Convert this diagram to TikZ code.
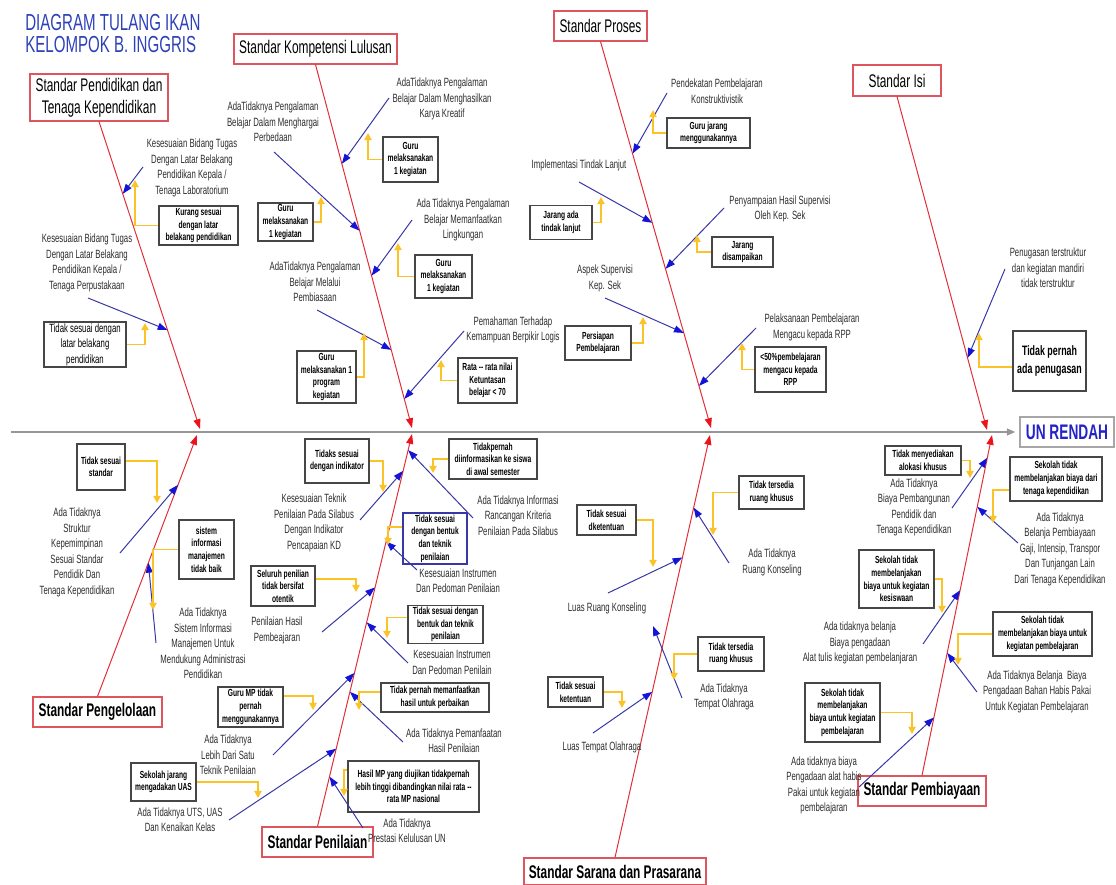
\documentclass[tikz,border=0pt]{standalone}
\usepackage{fontspec}
\usetikzlibrary{arrows.meta,calc}
\newfontfamily\nf[FakeStretch=0.65]{Liberation Sans}
\definecolor{bonered}{RGB}{225,45,55}
\definecolor{tipred}{RGB}{235,20,30}
\definecolor{catred}{RGB}{220,85,95}
\definecolor{subblue}{RGB}{55,55,165}
\definecolor{tipblue}{RGB}{20,20,215}
\definecolor{noteyellow}{RGB}{250,195,40}
\definecolor{boxgray}{RGB}{70,70,70}
\definecolor{spinegray}{RGB}{150,150,150}
\definecolor{titleblue}{RGB}{45,65,185}
\definecolor{unblue}{RGB}{35,35,200}
\definecolor{txtgray}{RGB}{45,45,45}

\begin{document}
\begin{tikzpicture}[
  x=0.025cm, y=-0.025cm,
  sz/.style 2 args={minimum width=#1*0.025cm, minimum height=#2*0.025cm},
  cat/.style={draw=catred, line width=0.8pt, fill=white, align=center, inner sep=1pt, font=\nf\fontsize{13}{15.6}\selectfont},
  catb/.style={cat, font=\nf\bfseries\fontsize{13}{15.6}\selectfont},
  cause/.style={align=center, inner sep=0pt, text=txtgray, font=\nf\fontsize{8.5}{11}\selectfont},
  why/.style={draw=boxgray, line width=0.8pt, fill=white, align=center, inner sep=1pt, font=\nf\bfseries\fontsize{7.3}{9}\selectfont},
  bonearr/.style={draw=bonered, line width=0.7pt, -{Triangle[length=7pt,width=5pt,color=tipred]}},
  subarr/.style={draw=subblue, line width=0.7pt, -{Triangle[length=7pt,width=5pt,color=tipblue]}},
  yarr/.style={draw=noteyellow, line width=1.3pt, -{Triangle[length=5pt,width=5pt]}},
  spinearr/.style={draw=spinegray, line width=1pt, -{Triangle[length=6pt,width=5pt]}},
]
  \fill[white] (0,0) rectangle (1116,885);
  \useasboundingbox (0,0) rectangle (1116,885);

  % title
  \node[anchor=west, inner sep=0pt, text=titleblue, font=\nf\fontsize{16.5}{20}\selectfont] (t1) at (25,23) {DIAGRAM TULANG IKAN};
  \node[anchor=west, inner sep=0pt, text=titleblue, font=\nf\fontsize{16.5}{20}\selectfont] (t2) at (25,45) {KELOMPOK B. INGGRIS};

  % spine and effect
  \node[draw=black!35, line width=0.8pt, sz={94}{30}, text=unblue, font=\nf\bfseries\fontsize{15}{18}\selectfont] (unr) at (1067,432) {UN RENDAH};
  \coordinate (tail) at (11,432);
  \draw[spinearr, shorten >=3pt] (tail) -- (unr.west);

  % heads of the main bones
  \coordinate (h1) at (200,429);
  \coordinate (h2) at (412,428);
  \coordinate (h3) at (711,428);
  \coordinate (h4) at (987,430);
  \coordinate (h5) at (197,435);
  \coordinate (h6) at (412,434);
  \coordinate (h7) at (710,435);
  \coordinate (h8) at (992,435);

  % categories
  \node[cat, sz={138}{47}] (spd) at (99,97.5) {Standar Pendidikan dan\\Tenaga Kependidikan};
  \node[cat, sz={163}{30}] (skl) at (315.5,49) {Standar Kompetensi Lulusan};
  \node[cat, sz={93}{30}] (spr) at (600.5,26) {Standar Proses};
  \node[cat, sz={88}{31}] (sis) at (897,80.5) {Standar Isi};
  \node[catb, sz={129}{30}] (spg) at (97.5,712) {Standar Pengelolaan};
  \node[catb, sz={111}{30}] (spn) at (317.5,842) {Standar Penilaian};
  \node[catb, sz={182}{27}] (ssp) at (615,871.5) {Standar Sarana dan Prasarana};
  \node[catb, sz={128}{30}] (spb) at (922,791) {Standar Pembiayaan};

  \draw[bonearr] (spd.south) -- (h1);
  \draw[bonearr] (skl.south) -- (h2);
  \draw[bonearr] (spr.south) -- (h3);
  \draw[bonearr] (sis.south) -- (h4);
  \draw[bonearr] (spg.north) -- (h5);
  \draw[bonearr] (spn.north) -- (h6);
  \draw[bonearr] (ssp.north) -- (h7);
  \draw[bonearr] (spb.north) -- (h8);

  % Standar Pendidikan dan Tenaga Kependidikan
  \node[cause] (spd1) at (192,168) {Kesesuaian Bidang Tugas\\Dengan Latar Belakang\\Pendidikan Kepala /\\Tenaga Laboratorium};
  \node[why, sz={79}{39}] (spd1b) at (198.5,225.5) {Kurang sesuai\\dengan latar\\belakang pendidikan};
  \coordinate (spd1s) at (143,167);
  \coordinate (spd1y) at (135,180);
  \draw[subarr] (spd1s) -- ($(spd.south)!0.235!(h1)$);
  \draw[yarr] (spd1b.west) -| (spd1y);

  \node[cause] (spd2) at (87,263) {Kesesuaian Bidang Tugas\\Dengan Latar Belakang\\Pendidikan Kepala /\\Tenaga Perpustakaan};
  \node[why, sz={82}{45}, font=\nf\fontsize{8.5}{11}\selectfont] (spd2b) at (85,344.5) {Tidak sesuai dengan\\latar belakang\\pendidikan};
  \coordinate (spd2s) at (88,298);
  \coordinate (spd2y) at (145,323);
  \draw[subarr] (spd2s) -- ($(spd.south)!0.678!(h1)$);
  \draw[yarr] (spd2b.east) -| (spd2y);

  % Standar Kompetensi Lulusan
  \node[cause] (skl1) at (442,99) {AdaTidaknya Pengalaman\\Belajar Dalam Menghasilkan\\Karya Kreatif};
  \node[why, sz={55}{45}] (skl1b) at (410.5,159.5) {Guru\\melaksanakan\\1 kegiatan};
  \coordinate (skl1s) at (389,98);
  \coordinate (skl1y) at (368,133);
  \draw[subarr] (skl1s) -- ($(skl.south)!0.273!(h2)$);
  \draw[yarr] (skl1b.west) -| (skl1y);

  \node[cause] (skl2) at (273,122) {AdaTidaknya Pengalaman\\Belajar Dalam Menghargai\\Perbedaan};
  \node[why, sz={55}{38}] (skl2b) at (285.5,222) {Guru\\melaksanakan\\1 kegiatan};
  \coordinate (skl2s) at (274,152);
  \coordinate (skl2y) at (321,197);
  \draw[subarr] (skl2s) -- ($(skl.south)!0.457!(h2)$);
  \draw[yarr] (skl2b.east) -| (skl2y);

  \node[cause] (skl3) at (463,220) {Ada Tidaknya Pengalaman\\Belajar Memanfaatkan\\Lingkungan};
  \node[why, sz={57}{43}] (skl3b) at (443.5,276.5) {Guru\\melaksanakan\\1 kegiatan};
  \coordinate (skl3s) at (412,220);
  \coordinate (skl3y) at (398,243);
  \draw[subarr] (skl3s) -- ($(skl.south)!0.581!(h2)$);
  \draw[yarr] (skl3b.west) -| (skl3y);

  \node[cause] (skl4) at (315,282) {AdaTidaknya Pengalaman\\Belajar Melalui\\Pembiasaan};
  \node[why, sz={59}{52}] (skl4b) at (326.5,377) {Guru\\melaksanakan 1\\program\\kegiatan};
  \coordinate (skl4s) at (317,310);
  \coordinate (skl4y) at (364,333);
  \draw[subarr] (skl4s) -- ($(skl.south)!0.785!(h2)$);
  \draw[yarr] (skl4b.east) -| (skl4y);

  \node[cause] (skl5) at (513,330) {Pemahaman Terhadap\\Kemampuan Berpikir Logis};
  \node[why, sz={59}{45}] (skl5b) at (487.5,380.5) {Rata -- rata nilai\\Ketuntasan\\belajar < 70};
  \coordinate (skl5s) at (464,331);
  \coordinate (skl5y) at (441,360);
  \draw[subarr] (skl5s) -- ($(skl.south)!0.920!(h2)$);
  \draw[yarr] (skl5b.west) -| (skl5y);

  % Standar Proses
  \node[cause] (spr1) at (717,91) {Pendekatan Pembelajaran\\Konstruktivistik};
  \node[why, sz={83}{30}] (spr1b) at (708.5,133) {Guru jarang\\menggunakannya};
  \coordinate (spr1s) at (667,93);
  \coordinate (spr1y) at (653,110);
  \draw[subarr] (spr1s) -- ($(spr.south)!0.290!(h3)$);
  \draw[yarr] (spr1b.west) -| (spr1y);

  \node[cause] (spr2) at (579,165) {Implementasi Tindak Lanjut};
  \node[why, sz={62}{34}] (spr2b) at (561,222.5) {Jarang ada\\tindak lanjut};
  \coordinate (spr2s) at (579,182);
  \coordinate (spr2y) at (601,197);
  \draw[subarr] (spr2s) -- ($(spr.south)!0.469!(h3)$);
  \draw[yarr] (spr2b.east) -| (spr2y);

  \node[cause] (spr3) at (780,209) {Penyampaian Hasil Supervisi\\Oleh Kep. Sek};
  \node[why, sz={61}{30}] (spr3b) at (742.5,252) {Jarang\\disampaikan};
  \coordinate (spr3s) at (724,208);
  \coordinate (spr3y) at (697,235);
  \draw[subarr] (spr3s) -- ($(spr.south)!0.588!(h3)$);
  \draw[yarr] (spr3b.west) -| (spr3y);

  \node[cause] (spr4) at (605,278.5) {Aspek Supervisi\\Kep. Sek};
  \node[why, sz={66}{34}] (spr4b) at (598,343) {Persiapan\\Pembelajaran};
  \coordinate (spr4s) at (605,298);
  \coordinate (spr4y) at (643,317);
  \draw[subarr] (spr4s) -- ($(spr.south)!0.754!(h3)$);
  \draw[yarr] (spr4b.east) -| (spr4y);

  \node[cause] (spr5) at (812,327.5) {Pelaksanaan Pembelajaran\\Mengacu kepada RPP};
  \node[why, sz={71}{45}] (spr5b) at (790.5,369.5) {<50\%pembelajaran\\mengacu kepada\\RPP};
  \coordinate (spr5s) at (756,328);
  \coordinate (spr5y) at (742,343);
  \draw[subarr] (spr5s) -- ($(spr.south)!0.891!(h3)$);
  \draw[yarr] (spr5b.west) -| (spr5y);

  % Standar Isi
  \node[cause] (sis1) at (1048,268) {Penugasan terstruktur\\dan kegiatan mandiri\\tidak terstruktur};
  \node[why, sz={73}{60}, font=\nf\bfseries\fontsize{9.7}{12.8}\selectfont] (sis1b) at (1049.5,361) {Tidak pernah\\ada penugasan};
  \coordinate (sis1s) at (1005,269);
  \coordinate (sis1y) at (979,333);
  \draw[subarr] (sis1s) -- ($(sis.south)!0.784!(h4)$);
  \draw[yarr] ([yshift=-4pt]sis1b.west) -| (sis1y);

  % Standar Pengelolaan
  \node[cause] (spg1) at (77,552.5) {Ada Tidaknya\\Struktur\\Kepemimpinan\\Sesuai Standar\\Pendidik Dan\\Tenaga Kependidikan};
  \node[why, sz={48}{46}] (spg1b) at (101,467) {Tidak sesuai\\standar};
  \coordinate (spg1s) at (120,553);
  \coordinate (spg1y) at (157,503);
  \draw[subarr] (spg1s) -- ($(spg.north)!0.809!(h5)$);
  \draw[yarr] ([yshift=4pt]spg1b.east) -| (spg1y);

  \node[cause] (spg2) at (203,643.5) {Ada Tidaknya\\Sistem Informasi\\Manajemen Untuk\\Mendukung Administrasi\\Pendidikan};
  \node[why, sz={55}{59}] (spg2b) at (206.5,549.5) {sistem\\informasi\\manajemen\\tidak baik};
  \coordinate (spg2s) at (156,643);
  \coordinate (spg2y) at (153,610);
  \draw[subarr] (spg2s) -- ($(spg.north)!0.511!(h5)$);
  \draw[yarr] (spg2b.west) -| (spg2y);

  % Standar Penilaian
  \node[cause] (spn1) at (314,523) {Kesesuaian Teknik\\Penilaian Pada Silabus\\Dengan Indikator\\Pencapaian KD};
  \node[why, sz={64}{44}] (spn1b) at (337,461) {Tidaks sesuai\\dengan indikator};
  \coordinate (spn1s) at (360,520);
  \coordinate (spn1y) at (383,492);
  \draw[subarr] (spn1s) -- ($(spn.north)!0.906!(h6)$);
  \draw[yarr] (spn1b.east) -| (spn1y);

  \node[cause] (spn2) at (518,515.5) {Ada Tidaknya Informasi\\Rancangan Kriteria\\Penilaian Pada Silabus};
  \node[why, sz={88}{40}] (spn2b) at (493,459) {Tidakpernah\\diinformasikan ke siswa\\di awal semester};
  \coordinate (spn2s) at (473,518);
  \coordinate (spn2y) at (433,473);
  \draw[subarr] (spn2s) -- ($(spn.north)!0.959!(h6)$);
  \draw[yarr] (spn2b.west) -| (spn2y);

  \node[cause] (spn3) at (458,580.5) {Kesesuaian Instrumen\\Dan Pedoman Penilaian};
  \node[why, draw=subblue, sz={64}{51}] (spn3b) at (435,538.5) {Tidak sesuai\\dengan bentuk\\dan teknik\\penilaian};
  \coordinate (spn3s) at (417,570);
  \coordinate (spn3y) at (388,545);
  \draw[subarr] (spn3s) -- ($(spn.north)!0.726!(h6)$);
  \draw[yarr] ([yshift=8pt]spn3b.west) -| (spn3y);

  \node[cause] (spn4) at (277,630.5) {Penilaian Hasil\\Pembeajaran};
  \node[why, sz={64}{40}] (spn4b) at (283,586) {Seluruh penilian\\tidak bersifat\\otentik};
  \coordinate (spn4s) at (322,632);
  \coordinate (spn4y) at (356,592);
  \draw[subarr] (spn4s) -- ($(spn.north)!0.609!(h6)$);
  \draw[yarr] ([yshift=5pt]spn4b.east) -| (spn4y);

  \node[cause] (spn5) at (452,662) {Kesesuaian Instrumen\\Dan Pedoman Penilain};
  \node[why, sz={75}{37}] (spn5b) at (445.5,624.5) {Tidak sesuai dengan\\bentuk dan teknik\\penilaian};
  \coordinate (spn5s) at (408,663);
  \coordinate (spn5y) at (387,638);
  \draw[subarr] (spn5s) -- ($(spn.north)!0.520!(h6)$);
  \draw[yarr] ([yshift=5pt]spn5b.west) -| (spn5y);

  \node[cause] (spn6) at (228,755) {Ada Tidaknya\\Lebih Dari Satu\\Teknik Penilaian};
  \node[why, sz={65}{40}] (spn6b) at (250.5,707) {Guru MP tidak\\pernah\\menggunakannya};
  \coordinate (spn6s) at (273,755);
  \coordinate (spn6y) at (313,710);
  \draw[subarr] (spn6s) -- ($(spn.north)!0.391!(h6)$);
  \draw[yarr] ([yshift=8pt]spn6b.east) -| (spn6y);

  \node[cause] (spn7) at (454,740.5) {Ada Tidaknya Pemanfaatan\\Hasil Penilaian};
  \node[why, sz={108}{29}] (spn7b) at (435,697.5) {Tidak pernah memanfaatkan\\hasil untuk perbaikan};
  \coordinate (spn7s) at (403,742);
  \coordinate (spn7y) at (359,710);
  \draw[subarr] (spn7s) -- ($(spn.north)!0.343!(h6)$);
  \draw[yarr] ([yshift=4pt]spn7b.west) -| (spn7y);

  \node[cause] (spn8) at (180,819.5) {Ada Tidaknya UTS, UAS\\Dan Kenaikan Kelas};
  \node[why, sz={65}{38}] (spn8b) at (163.5,782) {Sekolah jarang\\mengadakan UAS};
  \coordinate (spn8s) at (229,820);
  \coordinate (spn8y) at (258,798);
  \draw[subarr] (spn8s) -- ($(spn.north)!0.198!(h6)$);
  \draw[yarr] (spn8b.east) -| (spn8y);

  \node[cause] (spn9) at (407,830.5) {Ada Tidaknya\\Prestasi Kelulusan UN};
  \node[why, sz={131}{51}] (spn9b) at (413.5,786.5) {Hasil MP yang diujikan tidakpernah\\lebih tinggi dibandingkan nilai rata --\\rata MP nasional};
  \coordinate (spn9s) at (363,828);
  \coordinate (spn9y) at (344,796);
  \draw[subarr] (spn9s) -- ($(spn.north)!0.127!(h6)$);
  \draw[yarr] ([yshift=12pt]spn9b.west) -| (spn9y);

  % Standar Sarana dan Prasarana
  \node[cause] (ssp1) at (772,562.5) {Ada Tidaknya\\Ruang Konseling};
  \node[why, sz={65}{33}] (ssp1b) at (771.5,492.5) {Tidak tersedia\\ruang khusus};
  \coordinate (ssp1s) at (729,563);
  \coordinate (ssp1y) at (713,535);
  \draw[subarr] (ssp1s) -- ($(ssp.north)!0.828!(h7)$);
  \draw[yarr] (ssp1b.west) -| (ssp1y);

  \node[cause] (ssp2) at (607,608) {Luas Ruang Konseling};
  \node[why, sz={59}{30}] (ssp2b) at (606.5,520) {Tidak sesuai\\dketentuan};
  \coordinate (ssp2s) at (608,593);
  \coordinate (ssp2y) at (653,567);
  \draw[subarr] (ssp2s) -- ($(ssp.north)!0.710!(h7)$);
  \draw[yarr] (ssp2b.east) -| (ssp2y);

  \node[cause] (ssp3) at (724,697) {Ada Tidaknya\\Tempat Olahraga};
  \node[why, sz={66}{34}] (ssp3b) at (731,654) {Tidak tersedia\\ruang khusus};
  \coordinate (ssp3s) at (682,698);
  \coordinate (ssp3t) at (653,626);
  \coordinate (ssp3y) at (674,680);
  \draw[subarr] (ssp3s) -- (ssp3t);
  \draw[yarr] (ssp3b.west) -| (ssp3y);

  \node[cause] (ssp4) at (602,747) {Luas Tempat Olahraga};
  \node[why, sz={55}{30}] (ssp4b) at (575.5,692) {Tidak sesuai\\ketentuan};
  \coordinate (ssp4s) at (593,733);
  \coordinate (ssp4y) at (622,708);
  \draw[subarr] (ssp4s) -- ($(ssp.north)!0.392!(h7)$);
  \draw[yarr] (ssp4b.east) -| (ssp4y);

  % Standar Pembiayaan
  \node[cause] (spb1) at (914,507.5) {Ada Tidaknya\\Biaya Pembangunan\\Pendidik dan\\Tenaga Kependidikan};
  \node[why, sz={76}{29}] (spb1b) at (923,460.5) {Tidak menyediakan\\alokasi khusus};
  \coordinate (spb1s) at (952,508);
  \coordinate (spb1y) at (970,478);
  \draw[subarr] (spb1s) -- ($(spb.north)!0.933!(h8)$);
  \draw[yarr] (spb1b.east) -| (spb1y);

  \node[cause] (spb2) at (1060,549) {Ada Tidaknya\\Belanja Pembiayaan\\Gaji, Intensip, Transpor\\Dan Tunjangan Lain\\Dari Tenaga Kependidikan};
  \node[why, sz={92}{44}] (spb2b) at (1056,479) {Sekolah tidak\\membelanjakan biaya dari\\tenaga kependidikan};
  \coordinate (spb2s) at (1018,543);
  \coordinate (spb2y) at (993,523);
  \draw[subarr] (spb2s) -- ($(spb.north)!0.789!(h8)$);
  \draw[yarr] ([yshift=-8pt]spb2b.west) -| (spb2y);

  \node[cause] (spb3) at (860,643) {Ada tidaknya belanja\\Biaya pengadaan\\Alat tulis kegiatan pembelanjaran};
  \node[why, sz={75}{58}] (spb3b) at (896.5,579) {Sekolah tidak\\membelanjakan\\biaya untuk kegiatan\\kesiswaan};
  \coordinate (spb3s) at (923,644);
  \coordinate (spb3y) at (942,613);
  \draw[subarr] (spb3s) -- ($(spb.north)!0.544!(h8)$);
  \draw[yarr] (spb3b.east) -| (spb3y);

  \node[cause] (spb4) at (1037,691.5) {Ada Tidaknya Belanja~ Biaya\\Pengadaan Bahan Habis Pakai\\Untuk Kegiatan Pembelajaran};
  \node[why, sz={99}{44}] (spb4b) at (1042.5,634) {Sekolah tidak\\membelanjakan biaya untuk\\kegiatan pembelajaran};
  \coordinate (spb4s) at (977,692);
  \coordinate (spb4y) at (958,665);
  \draw[subarr] (spb4s) -- ($(spb.north)!0.360!(h8)$);
  \draw[yarr] (spb4b.west) -| (spb4y);

  \node[cause] (spb5) at (824,785.5) {Ada tidaknya biaya\\Pengadaan alat habis\\Pakai untuk kegiatan\\pembelajaran};
  \node[why, sz={75}{59}] (spb5b) at (842.5,712.5) {Sekolah tidak\\membelanjakan\\biaya untuk kegiatan\\pembelajaran};
  \coordinate (spb5s) at (859,787);
  \coordinate (spb5y) at (912,734);
  \draw[subarr] (spb5s) -- ($(spb.north)!0.170!(h8)$);
  \draw[yarr] (spb5b.east) -| (spb5y);
\end{tikzpicture}
\end{document}
